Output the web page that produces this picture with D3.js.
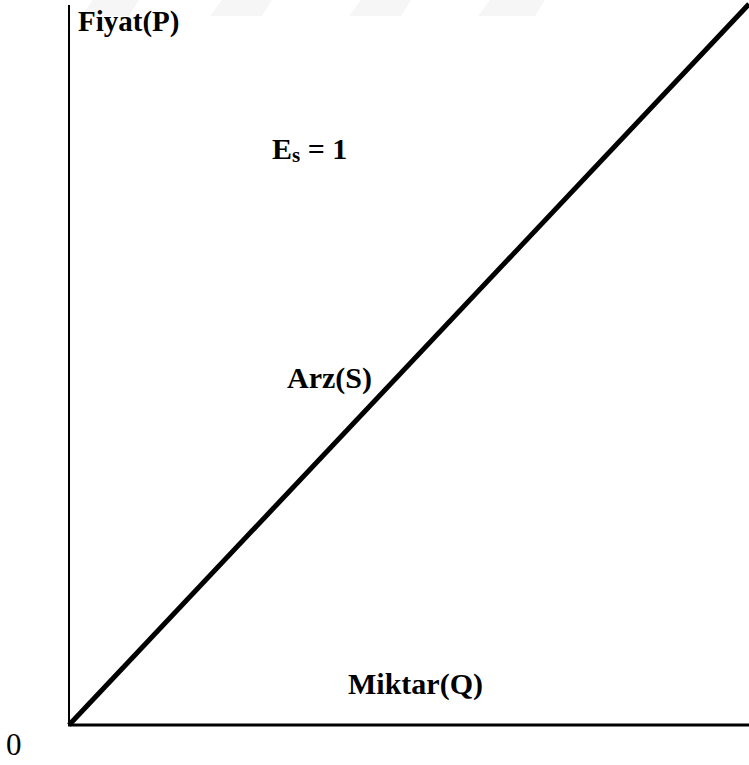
<!DOCTYPE html>
<html>
<head>
<meta charset="utf-8">
<script src="https://cdn.jsdelivr.net/npm/d3@7"></script>
<style>
  html, body { margin: 0; padding: 0; background: #fff; }
  #chart { width: 749px; height: 765px; overflow: hidden; }
  text { font-family: "Liberation Serif", "Times New Roman", serif; fill: #000; }
</style>
</head>
<body>
<div id="chart"></div>
<script>
// -- data --
var supply_q = [0, 10];
var supply_p = [0, 10];
var axis_labels = ["Fiyat(P)", "Miktar(Q)"];
var curve_label = "Arz(S)";
var origin_label = "0";
var elasticity = { base: "E", sub: "s", rest: " = 1" };

var width = 749, height = 765;

var svg = d3.select("#chart")
  .append("svg")
  .attr("width", width)
  .attr("height", height);

// faint watermark at the top
var wm = [[81, 139], [210, 272], [349, 411], [478, 545]];
svg.selectAll("polygon.wm")
  .data(wm)
  .enter()
  .append("polygon")
  .attr("class", "wm")
  .attr("points", function (d) {
    return (d[0] + 12) + ",0 " + d[1] + ",0 " + (d[1] - 10) + ",16 " + d[0] + ",16";
  })
  .attr("fill", "#f6f6f6");

// == scales ==
var x = d3.scaleLinear().domain([0, 10]).range([69, 749]);
var y = d3.scaleLinear().domain([0, 10]).range([725, 4]);

// == axes ==
svg.append("line")
  .attr("x1", x(0)).attr("x2", x(0))
  .attr("y1", 5).attr("y2", y(0) + 1)
  .attr("stroke", "black")
  .attr("stroke-width", 2);

svg.append("line")
  .attr("x1", x(0) - 1).attr("x2", width + 5)
  .attr("y1", y(0)).attr("y2", y(0))
  .attr("stroke", "black")
  .attr("stroke-width", 3);

// == supply curve ==
var pts = supply_q.map(function (q, i) { return [q, supply_p[i]]; });
var line = d3.line()
  .x(function (d) { return x(d[0]); })
  .y(function (d) { return y(d[1]); });

svg.append("path")
  .datum(pts)
  .attr("d", line)
  .attr("fill", "none")
  .attr("stroke", "black")
  .attr("stroke-width", 5);

// == labels ==
svg.append("text")
  .text(axis_labels[0])
  .attr("x", 78).attr("y", 31)
  .style("font-weight", "bold")
  .style("font-size", "29px");

svg.append("text")
  .text(axis_labels[1])
  .attr("x", 348).attr("y", 694)
  .style("font-weight", "bold")
  .style("font-size", "30px");

svg.append("text")
  .text(curve_label)
  .attr("x", 287).attr("y", 388)
  .style("font-weight", "bold")
  .style("font-size", "30px");

svg.append("text")
  .text(origin_label)
  .attr("x", 6).attr("y", 755)
  .style("font-size", "31px");

var es = svg.append("text")
  .attr("x", 272).attr("y", 159)
  .style("font-weight", "bold")
  .style("font-size", "30px");
es.append("tspan").text(elasticity.base);
es.append("tspan").text(elasticity.sub)
  .attr("dy", 3)
  .style("font-size", "21px");
es.append("tspan").text(elasticity.rest)
  .attr("dy", -3);
</script>
</body>
</html>
